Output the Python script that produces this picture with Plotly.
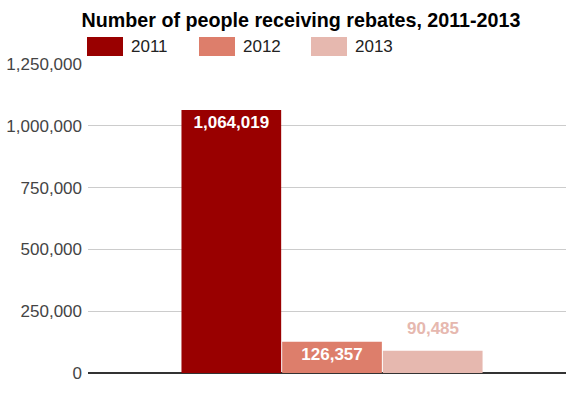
import plotly.graph_objects as go

years = ["2011", "2012", "2013"]
values = [1064019, 126357, 90485]
colors = ["#990000", "#DD7E6B", "#E6B8AF"]
label_colors = ["#FFFFFF", "#FFFFFF", "#E6B8AF"]
label_inside = [True, True, False]
category = ["Rebates"]
y_ticks = [0, 250000, 500000, 750000, 1000000, 1250000]
y_ticklabels = ["0", "250,000", "500,000", "750,000", "1,000,000", "1,250,000"]
title = "Number of people receiving rebates, 2011-2013"

W, H = 566, 398
PL, PR, PT, PB = 88, 566, 64, 373  # plot box in page px
ML, MR, MT, MB = PL, W - PR, PT, H - PB
PW, PH = PR - PL, PB - PT
FONT = "Arial, Liberation Sans, sans-serif"

def px(x):
    return (x - PL) / PW

def py(y):
    return (PB - y) / PH

BARGAP = 0.368
slot = (1 - BARGAP) * PW / len(years)

fig = go.Figure()
annotations = []
for i, (yr, v, c, lc, inside) in enumerate(zip(years, values, colors, label_colors, label_inside)):
    fig.add_trace(go.Bar(
        x=category, y=[v], name=yr, marker=dict(color=c, line=dict(width=0)),
        text=[f"{v:,}"] if inside else None,
        textposition="inside" if inside else "none", insidetextanchor="end",
        textfont=dict(family=FONT, size=17, color=lc, weight="bold"),
        cliponaxis=False, showlegend=False, hoverinfo="skip",
    ))
    if not inside:
        annotations.append(dict(
            x=category[0], y=v, xref="x", yref="y", text=f"<b>{v:,}</b>",
            showarrow=False, xanchor="center", yanchor="bottom",
            xshift=(i - 1) * slot, yshift=11,
            font=dict(family=FONT, size=17, color=lc)))

shapes = []
for i, (yr, c) in enumerate(zip(years, colors)):
    x0 = 87 + i * 112
    shapes.append(dict(type="rect", xref="paper", yref="paper",
                       x0=px(x0), x1=px(x0 + 36), y0=py(56), y1=py(37),
                       fillcolor=c, line=dict(width=0)))
    annotations.append(dict(text=yr, xref="paper", yref="paper",
                            x=px(x0 + 42), y=py(46.5), xanchor="left", yanchor="middle",
                            showarrow=False, font=dict(family=FONT, size=17, color="#222222")))

fig.update_layout(
    width=W, height=H,
    margin=dict(l=ML, r=MR, t=MT, b=MB, pad=0),
    paper_bgcolor="white", plot_bgcolor="white",
    barmode="group", bargap=BARGAP, bargroupgap=0.01,
    title=dict(text=f"<b>{title}</b>", x=301 / W, xref="container", xanchor="center",
               y=1 - 20 / H, yref="container", yanchor="middle",
               font=dict(family=FONT, size=19.7, color="#000000")),
    font=dict(family=FONT, size=17, color="#444444"),
    shapes=shapes, annotations=annotations,
    showlegend=False,
)
fig.update_xaxes(type="category", range=[-0.5105, 0.4895], showticklabels=False,
                 showgrid=False, zeroline=False, showline=False, fixedrange=True)
fig.update_yaxes(range=[0, 1250000], tickvals=y_ticks, ticktext=y_ticklabels,
                 showgrid=True, gridcolor="#CCCCCC", gridwidth=1,
                 zeroline=True, zerolinecolor="#333333", zerolinewidth=1.5,
                 tickfont=dict(family=FONT, size=17, color="#444444"),
                 ticks="", ticklabelstandoff=5, fixedrange=True)

fig.write_html(
    "out.html",
    config={"displayModeBar": False},
    post_script="document.body.style.margin='0';document.body.style.overflow='hidden';",
)
